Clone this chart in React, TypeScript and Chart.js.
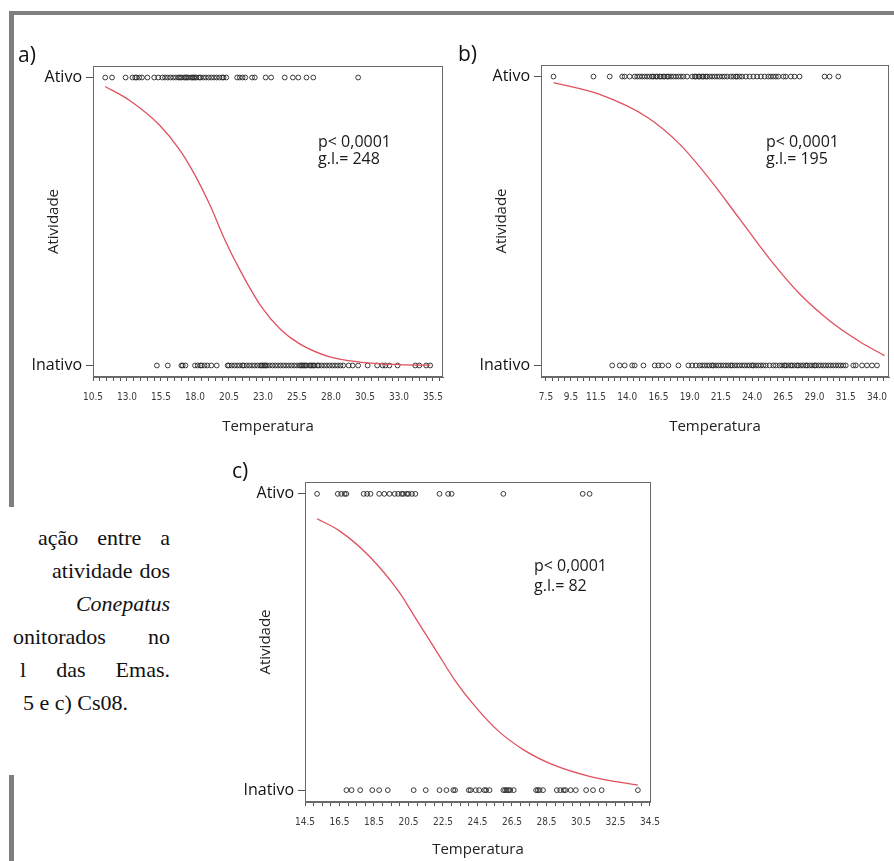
import React, { useEffect, useRef } from "react";
import { Chart, registerables } from "chart.js";
Chart.register(...registerables);

// ---------- Panel a ----------
const ATIVO_A = [11.4, 11.9, 12.9, 13.4, 13.6, 13.7, 13.9, 14.1, 14.5, 15.0, 15.3, 15.6, 15.8, 16.0, 16.2, 16.4, 16.6, 16.8, 16.9, 17.0, 17.2, 17.3, 17.4, 17.5, 17.7, 17.8, 17.9, 18.0, 18.1, 18.3, 18.4, 18.6, 18.8, 19.0, 19.2, 19.4, 19.6, 19.8, 20.0, 20.1, 20.3, 21.1, 21.3, 21.5, 21.7, 22.2, 22.4, 23.2, 23.6, 24.6, 25.2, 25.6, 26.2, 26.7, 30.0];
const INATIVO_A = [15.2, 16.0, 17.0, 17.1, 17.3, 18.0, 18.2, 18.4, 18.5, 18.7, 18.9, 19.2, 19.6, 20.4, 20.5, 20.7, 20.9, 21.1, 21.3, 21.5, 21.6, 21.8, 22.0, 22.2, 22.4, 22.6, 22.8, 22.9, 23.0, 23.1, 23.2, 23.3, 23.5, 23.7, 23.9, 24.1, 24.3, 24.5, 24.7, 24.9, 25.1, 25.3, 25.5, 25.7, 25.8, 25.9, 26.0, 26.1, 26.2, 26.4, 26.5, 26.6, 26.7, 26.8, 27.0, 27.1, 27.3, 27.5, 27.7, 27.9, 28.1, 28.3, 28.5, 28.7, 28.9, 29.3, 29.6, 30.0, 30.7, 31.4, 31.8, 32.0, 32.3, 32.9, 34.2, 34.5, 35.0, 35.3];
const CURVE_A_T = [11.4, 13.2, 15.4, 16.9, 18.0, 19.1, 20.2, 21.3, 22.8, 24.3, 25.7, 27.9, 30.1, 33.1, 35.3];
const CURVE_A_P = [0.969, 0.92, 0.834, 0.747, 0.661, 0.557, 0.436, 0.332, 0.21, 0.125, 0.075, 0.03, 0.012, 0.003, 0.001];
const LABELS_A = [10.5, 13.0, 15.5, 18.0, 20.5, 23.0, 25.5, 28.0, 30.5, 33.0, 35.5];

// ---------- Panel b ----------
const ATIVO_B = [8.1, 11.3, 12.6, 13.6, 13.8, 14.2, 14.6, 14.8, 15.0, 15.2, 15.4, 15.6, 15.8, 16.0, 16.1, 16.3, 16.4, 16.6, 16.7, 16.9, 17.0, 17.2, 17.3, 17.5, 17.7, 17.9, 18.1, 18.3, 18.5, 18.8, 19.2, 19.4, 19.5, 19.7, 19.8, 20.0, 20.1, 20.3, 20.4, 20.6, 20.8, 21.0, 21.2, 21.4, 21.6, 21.8, 22.0, 22.3, 22.5, 22.7, 22.8, 23.0, 23.2, 23.5, 23.8, 24.1, 24.4, 24.7, 25.0, 25.3, 25.5, 25.7, 25.9, 26.1, 26.5, 26.7, 27.1, 27.4, 27.8, 29.8, 30.2, 30.9];
const INATIVO_B = [12.8, 13.4, 13.8, 14.4, 14.6, 15.3, 16.2, 16.5, 16.8, 17.3, 18.1, 18.9, 19.2, 19.5, 19.8, 20.0, 20.2, 20.4, 20.6, 20.8, 20.9, 21.1, 21.3, 21.5, 21.7, 21.9, 22.1, 22.3, 22.4, 22.6, 22.8, 23.0, 23.2, 23.4, 23.6, 23.8, 24.0, 24.1, 24.3, 24.5, 24.7, 24.9, 25.1, 25.4, 25.7, 25.9, 26.2, 26.4, 26.6, 26.7, 26.9, 27.1, 27.2, 27.4, 27.6, 27.7, 27.9, 28.1, 28.3, 28.4, 28.6, 28.8, 29.0, 29.1, 29.3, 29.5, 29.7, 29.9, 30.1, 30.3, 30.5, 30.7, 30.9, 31.1, 31.3, 31.5, 32.1, 32.3, 32.8, 33.2, 33.6, 34.0];
const CURVE_B_T = [8.1, 11.8, 15.6, 18.2, 20.6, 23.0, 25.4, 27.8, 30.2, 32.6, 34.6];
const CURVE_B_P = [0.979, 0.938, 0.859, 0.766, 0.645, 0.507, 0.369, 0.248, 0.155, 0.083, 0.034];
const LABELS_B = [7.5, 9.5, 11.5, 14.0, 16.5, 19.0, 21.5, 24.0, 26.5, 29.0, 31.5, 34.0];

// ---------- Panel c ----------
const ATIVO_C = [15.2, 16.4, 16.6, 16.8, 16.9, 17.9, 18.1, 18.3, 18.8, 19.1, 19.4, 19.7, 19.9, 20.1, 20.2, 20.4, 20.5, 20.7, 20.9, 22.3, 22.8, 23.0, 26.0, 30.6, 31.0];
const INATIVO_C = [16.9, 17.2, 17.7, 18.4, 18.8, 19.3, 20.8, 21.5, 22.3, 22.7, 23.1, 23.2, 24.0, 24.1, 24.4, 24.6, 24.9, 25.0, 25.2, 26.0, 26.1, 26.2, 26.3, 26.4, 26.6, 27.9, 28.0, 28.1, 28.3, 29.1, 29.3, 29.5, 29.6, 29.9, 30.2, 30.8, 31.2, 31.7, 33.8];
const CURVE_C_T = [15.2, 16.5, 18.2, 19.9, 21.0, 22.1, 23.2, 24.4, 25.7, 27.2, 28.9, 31.1, 33.8];
const CURVE_C_P = [0.916, 0.875, 0.791, 0.673, 0.572, 0.471, 0.37, 0.28, 0.2, 0.135, 0.085, 0.045, 0.017];
const LABELS_C = [14.5, 16.5, 18.5, 20.5, 22.5, 24.5, 26.5, 28.5, 30.5, 32.5, 34.5];

const Y_LABELS = ["Inativo", "Ativo"];
const X_TITLE = "Temperatura";
const Y_TITLE = "Atividade";

const SANS = "'Open Sans', 'Noto Sans', sans-serif";
const NARROW = "'Liberation Sans Narrow', 'DejaVu Sans Condensed', 'Liberation Sans', sans-serif";

type Panel = {
  ativo: number[];
  inativo: number[];
  curveT: number[];
  curveP: number[];
  labels: number[];
  xMin: number;
  xMax: number;
  tickStart: number;
  tickEnd: number;
  pad: { left: number; top: number; right: number; bottom: number };
  xH: number;
  yW: number;
};

const boxPlugin = {
  id: "plotBox",
  afterDraw(chart: any) {
    const { ctx, chartArea } = chart;
    const { left, top, right, bottom } = chartArea;
    ctx.save();
    ctx.strokeStyle = "#6a6a6a";
    ctx.lineWidth = 1;
    ctx.strokeRect(Math.round(left) + 0.5, Math.round(top) + 0.5, Math.round(right - left) - 1, Math.round(bottom - top) - 1);
    ctx.restore();
  },
};

function buildConfig(p: Panel): any {
  const minor: number[] = [];
  for (let v = p.tickStart; v <= p.tickEnd + 1e-9; v += 0.5) minor.push(Math.round(v * 10) / 10);
  return {
    type: "scatter",
    data: {
      datasets: [
        {
          label: "curve",
          data: p.curveT.map((t, i) => ({ x: t, y: p.curveP[i] })),
          showLine: true,
          borderColor: "#e0505f",
          borderWidth: 1.3,
          pointRadius: 0,
          cubicInterpolationMode: "monotone",
          fill: false,
        },
        {
          label: "Ativo",
          data: p.ativo.map((t) => ({ x: t, y: 1 })),
          pointRadius: 2.4,
          borderWidth: 0.9,
          borderColor: "#262626",
          backgroundColor: "rgba(0,0,0,0)",
        },
        {
          label: "Inativo",
          data: p.inativo.map((t) => ({ x: t, y: 0 })),
          pointRadius: 2.4,
          borderWidth: 0.9,
          borderColor: "#262626",
          backgroundColor: "rgba(0,0,0,0)",
        },
      ],
    },
    options: {
      responsive: false,
      animation: false,
      devicePixelRatio: 1,
      layout: { padding: p.pad },
      plugins: { legend: { display: false }, tooltip: { enabled: false }, title: { display: false } },
      scales: {
        x: {
          type: "linear",
          min: p.xMin,
          max: p.xMax,
          afterBuildTicks: (s: any) => {
            s.ticks = minor.map((v) => ({ value: v }));
          },
          afterFit: (s: any) => {
            s.height = p.xH;
          },
          ticks: {
            autoSkip: false,
            maxRotation: 0,
            minRotation: 0,
            padding: 10,
            color: "#3a3a3a",
            font: { family: NARROW, size: 10 },
            callback: (v: any) => (p.labels.some((l) => Math.abs(l - v) < 1e-6) ? Number(v).toFixed(1) : ""),
          },
          grid: { drawOnChartArea: false, drawTicks: true, tickLength: 4, color: "#555", lineWidth: 1 },
          border: { display: true, color: "#6a6a6a" },
          title: { display: true, text: X_TITLE, color: "#222", font: { family: SANS, size: 15 }, padding: 0 },
        },
        y: {
          type: "linear",
          min: -0.04,
          max: 1.04,
          afterBuildTicks: (s: any) => {
            s.ticks = [{ value: 0 }, { value: 1 }];
          },
          afterFit: (s: any) => {
            s.width = p.yW;
          },
          ticks: {
            padding: 4,
            color: "#111",
            font: { family: SANS, size: 16 },
            callback: (v: any) => (v === 1 ? Y_LABELS[1] : v === 0 ? Y_LABELS[0] : ""),
          },
          grid: { drawOnChartArea: false, drawTicks: true, tickLength: 7, color: "#555", lineWidth: 1 },
          border: { display: true, color: "#6a6a6a" },
          title: {
            display: true,
            text: Y_TITLE,
            color: "#222",
            font: { family: SANS, size: 15 },
            padding: { top: 18, bottom: 0 },
          },
        },
      },
    },
    plugins: [boxPlugin],
  };
}

const PANEL_A: Panel = {
  ativo: ATIVO_A, inativo: INATIVO_A, curveT: CURVE_A_T, curveP: CURVE_A_P, labels: LABELS_A,
  xMin: 10.5, xMax: 36.24, tickStart: 10.5, tickEnd: 36.0,
  pad: { left: 27, top: 26, right: 7, bottom: 4 }, xH: 59, yW: 66,
};
const PANEL_B: Panel = {
  ativo: ATIVO_B, inativo: INATIVO_B, curveT: CURVE_B_T, curveP: CURVE_B_P, labels: LABELS_B,
  xMin: 7.1, xMax: 34.96, tickStart: 7.5, tickEnd: 34.5,
  pad: { left: 20, top: 25, right: 5, bottom: 4 }, xH: 59, yW: 66,
};
const PANEL_C: Panel = {
  ativo: ATIVO_C, inativo: INATIVO_C, curveT: CURVE_C_T, curveP: CURVE_C_P, labels: LABELS_C,
  xMin: 14.5, xMax: 34.56, tickStart: 14.5, tickEnd: 34.5,
  pad: { left: 39, top: 27, right: 9, bottom: 2 }, xH: 57, yW: 66,
};

function PanelChart({ panel, left, top, width, height }: { panel: Panel; left: number; top: number; width: number; height: number }) {
  const ref = useRef<HTMLCanvasElement | null>(null);
  useEffect(() => {
    if (!ref.current) return;
    const chart = new Chart(ref.current, buildConfig(panel));
    return () => chart.destroy();
  }, [panel]);
  return (
    <canvas
      ref={ref}
      width={width}
      height={height}
      style={{ position: "absolute", left, top, width, height }}
    />
  );
}

const abs = (left: number, top: number, extra: any = {}) => ({ position: "absolute" as const, left, top, ...extra });

export default function App() {
  const gray = "#7f7f7f";
  const serif = "'Liberation Serif', 'Times New Roman', serif";
  const capLine = { fontFamily: serif, fontSize: 22, lineHeight: "33px", color: "#111", whiteSpace: "nowrap" as const };
  const lbl = { fontFamily: SANS, fontSize: 21, lineHeight: "21px", color: "#111" };
  const ptxt = { fontFamily: SANS, fontSize: 16, lineHeight: "18px", color: "#1a1a1a", whiteSpace: "nowrap" as const };
  return (
    <div style={{ position: "absolute", left: 0, top: 0, width: 894, height: 861, background: "#fff", overflow: "hidden" }}>
      {/* frame lines */}
      <div style={abs(9, 11, { width: 885, height: 4, background: gray })} />
      <div style={abs(9, 11, { width: 5, height: 496, background: gray })} />
      <div style={abs(9, 775, { width: 5, height: 86, background: gray })} />

      {/* caption (partially visible) */}
      <div style={abs(38, 521, { ...capLine, width: 132, display: "flex", justifyContent: "space-between" })}>
        <span>ação</span><span>entre</span><span>a</span>
      </div>
      <div style={abs(52, 554, { ...capLine, width: 118, display: "flex", justifyContent: "space-between" })}>
        <span>atividade</span><span>dos</span>
      </div>
      <div style={abs(0, 587, { ...capLine, width: 170, textAlign: "right" })}>
        <i>Conepatus</i>
      </div>
      <div style={abs(13, 620, { ...capLine, width: 157, display: "flex", justifyContent: "space-between" })}>
        <span>onitorados</span><span>no</span>
      </div>
      <div style={abs(20, 653, { ...capLine, width: 150, display: "flex", justifyContent: "space-between" })}>
        <span>l</span><span>das</span><span>Emas.</span>
      </div>
      <div style={abs(23, 686, { ...capLine })}>5 e c) Cs08.</div>

      <PanelChart panel={PANEL_A} left={0} top={40} width={450} height={400} />
      <PanelChart panel={PANEL_B} left={455} top={40} width={439} height={400} />
      <PanelChart panel={PANEL_C} left={200} top={455} width={470} height={406} />

      {/* panel letters */}
      <div style={abs(18, 44, lbl)}>a)</div>
      <div style={abs(458, 43, lbl)}>b)</div>
      <div style={abs(232, 460, lbl)}>c)</div>

      {/* statistics */}
      <div style={abs(318, 132, ptxt)}>p&lt; 0,0001</div>
      <div style={abs(318, 149, ptxt)}>g.l.= 248</div>
      <div style={abs(766, 132, ptxt)}>p&lt; 0,0001</div>
      <div style={abs(766, 149, ptxt)}>g.l.= 195</div>
      <div style={abs(534, 556, ptxt)}>p&lt; 0,0001</div>
      <div style={abs(534, 576, ptxt)}>g.l.= 82</div>
    </div>
  );
}
